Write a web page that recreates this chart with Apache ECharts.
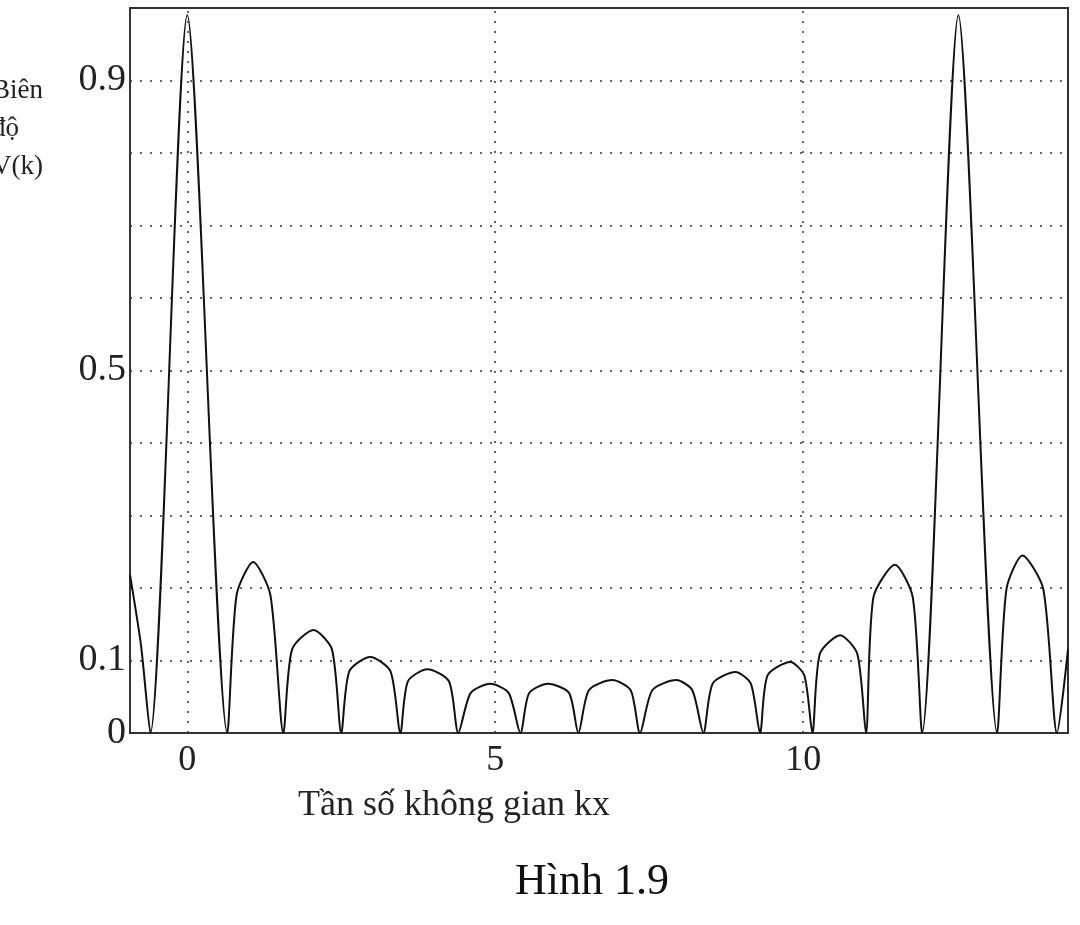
<!DOCTYPE html>
<html>
<head>
<meta charset="utf-8">
<script src="https://cdn.jsdelivr.net/npm/echarts@6/dist/echarts.min.js"></script>
<style>
html, body { margin: 0; padding: 0; background: #fff; }
#chart { width: 1080px; height: 925px; }
</style>
</head>
<body>
<div id="chart"></div>
<script>
// points: [k, |V(k)|]
var kValues = [-0.93, -0.75, -0.60, 0, 0.65,
	0.80, 1.07, 1.35, 1.56,
	1.70, 2.05, 2.35, 2.50,
	2.63, 2.97, 3.30, 3.46,
	3.58, 3.90, 4.25, 4.40,
	4.60, 4.92, 5.22, 5.41,
	5.55, 5.86, 6.20, 6.35,
	6.52, 6.90, 7.20, 7.35,
	7.55, 7.94, 8.20, 8.38,
	8.53, 8.90, 9.15, 9.30,
	9.42, 9.79, 10.02, 10.15,
	10.27, 10.60, 10.88, 11.02,
	11.14, 11.49, 11.78, 11.93,
	12.52, 13.15,
	13.30, 13.56, 13.90, 14.12, 14.30];
var vValues = [0.218, 0.12, 0, 0.99, 0,
	0.19, 0.236, 0.19, 0,
	0.115, 0.142, 0.115, 0,
	0.085, 0.105, 0.085, 0,
	0.071, 0.088, 0.071, 0,
	0.055, 0.068, 0.055, 0,
	0.055, 0.068, 0.055, 0,
	0.059, 0.073, 0.059, 0,
	0.059, 0.073, 0.059, 0,
	0.068, 0.084, 0.068, 0,
	0.079, 0.098, 0.079, 0,
	0.109, 0.135, 0.109, 0,
	0.187, 0.232, 0.187, 0,
	0.99, 0,
	0.198, 0.245, 0.198, 0, 0.115];
var xTicks = [0, 5, 10];
var yTicks = [0, 0.1, 0.5, 0.9];

var points = [];
for (var i = 0; i < kValues.length; i++) points.push([kValues[i], vValues[i]]);

var chart = echarts.init(document.getElementById('chart'));
var serif = 'Liberation Serif, DejaVu Serif, serif';
var dotted = { color: '#333', type: [2, 8], width: 1.5 };

chart.setOption({
	animation: false,
	grid: { left: 130, right: 12, top: 8, bottom: 192 },
	xAxis: {
		type: 'value', min: -0.93, max: 14.3,
		axisLine: { show: false },
		axisTick: { show: false },
		splitLine: { show: false },
		axisLabel: {
			customValues: xTicks, fontFamily: serif, fontSize: 36, color: '#222', margin: 10
		}
	},
	yAxis: {
		type: 'value', min: 0, max: 1, interval: 0.1,
		axisLine: { show: false },
		axisTick: { show: false },
		splitLine: { show: true, lineStyle: dotted },
		axisLabel: {
			fontFamily: serif, fontSize: 38, color: '#222', margin: 4,
			formatter: function (v) {
				var r = Math.round(v * 10) / 10;
				return yTicks.indexOf(r) >= 0 ? String(r) : '';
			}
		}
	},
	series: [{
		type: 'line',
		data: points,
		showSymbol: false,
		smooth: 0.25,
		lineStyle: { color: '#111', width: 2 },
		markLine: {
			silent: true, symbol: 'none', label: { show: false },
			lineStyle: dotted,
			data: xTicks.map(function (x) { return { xAxis: x }; })
		}
	}],
	graphic: [
		{ type: 'rect', shape: { x: 130, y: 8, width: 938, height: 725 },
			style: { fill: 'none', stroke: '#333', lineWidth: 2 } },
		{ type: 'text', left: -8, top: 72, style: { text: 'Biên\nđộ\nV(k)', font: '27px ' + serif, lineHeight: 38, fill: '#222' } },
		{ type: 'text', left: 298, top: 788, style: { text: 'Tần số không gian kx', font: '36px ' + serif, fill: '#222' } },
		{ type: 'text', left: 515, top: 860, style: { text: 'Hình 1.9', font: '44px ' + serif, fill: '#111' } }
	]
});
</script>
</body>
</html>
